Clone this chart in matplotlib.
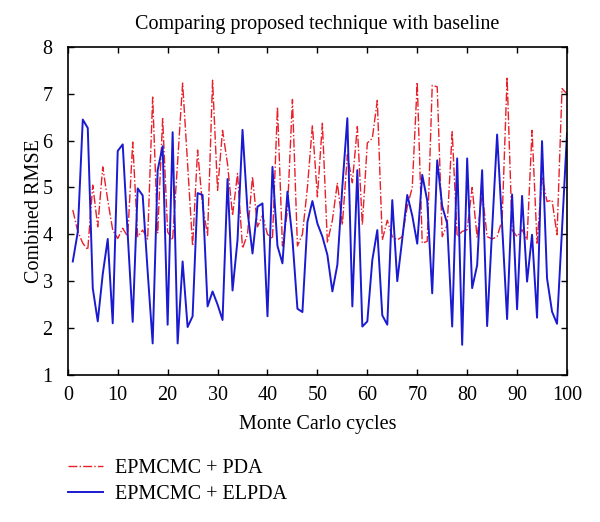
import numpy as np
import matplotlib
matplotlib.use("Agg")
from matplotlib import pyplot as plt

# Data (Monte Carlo cycles 1..100)
cycles = np.arange(1, 101)

pda = [4.52, 4.06, 3.81, 3.67, 5.05, 4.16, 5.44, 4.73, 4.09, 3.91,
       4.13, 3.95, 5.97, 3.95, 4.09, 3.90, 6.93, 4.02, 6.47, 4.05,
       3.88, 5.55, 7.23, 5.50, 3.75, 5.80, 4.60, 3.98, 7.29, 4.94,
       6.22, 5.50, 4.40, 5.30, 3.70, 4.00, 5.23, 4.16, 4.40, 4.00,
       3.90, 6.72, 3.75, 4.50, 6.88, 3.75, 4.00, 5.00, 6.33, 4.80,
       6.37, 3.82, 4.30, 5.10, 4.20, 5.70, 5.10, 6.30, 4.20, 5.95,
       6.05, 6.86, 3.88, 4.30, 3.95, 3.88, 3.95, 4.59, 5.00, 7.25,
       3.81, 3.85, 7.18, 7.15, 3.95, 4.20, 6.19, 3.95, 4.06, 4.10,
       5.00, 3.93, 4.90, 3.95, 3.90, 3.95, 4.30, 7.36, 4.09, 3.95,
       4.10, 3.88, 6.22, 3.81, 5.23, 4.70, 4.73, 3.99, 7.11, 7.00]

elpda = [3.42, 4.05, 6.45, 6.27, 2.85, 2.14, 3.15, 3.90, 2.10, 5.78,
         5.92, 4.00, 2.13, 4.98, 4.83, 3.20, 1.67, 5.37, 5.88, 2.07,
         6.18, 1.67, 3.42, 2.02, 2.25, 4.88, 4.84, 2.46, 2.78, 2.50,
         2.17, 5.18, 2.80, 3.88, 6.23, 4.50, 3.59, 4.59, 4.66, 2.25,
         5.44, 3.75, 3.38, 4.91, 3.90, 2.41, 2.34, 4.26, 4.71, 4.23,
         3.95, 3.56, 2.78, 3.35, 5.02, 6.48, 2.46, 5.37, 2.03, 2.14,
         3.45, 4.09, 2.27, 2.07, 4.73, 3.00, 3.90, 4.84, 4.40, 3.80,
         5.27, 4.72, 2.74, 5.58, 4.60, 4.23, 2.03, 5.62, 1.64, 5.62,
         2.85, 3.34, 5.37, 2.04, 4.10, 6.13, 4.20, 2.19, 4.85, 2.40,
         4.82, 2.99, 3.99, 2.22, 5.99, 3.06, 2.35, 2.09, 4.10, 6.15]

x_ticks = list(range(0, 101, 10))
y_ticks = list(range(1, 9))

plt.rcParams['font.family'] = ['Liberation Serif', 'DejaVu Serif']

fig = plt.figure(figsize=(6, 5.22), dpi=100)
ax = fig.add_axes([0.113, 0.282, 0.832, 0.628])

l1, = ax.plot(cycles, pda, color='#e8202a', linestyle='-.', linewidth=1.0,
              label='EPMCMC + PDA')
l2, = ax.plot(cycles, elpda, color='#1a1ad0', linestyle='-', linewidth=1.4,
              label='EPMCMC + ELPDA')

ax.set_xlim(0, 100)
ax.set_ylim(1, 8)
ax.set_xticks(x_ticks)
ax.set_yticks(y_ticks)
ax.tick_params(direction='in', top=True, right=True, labelsize=14.5,
               length=4, width=1)
ax.tick_params(axis='x', pad=8)
ax.tick_params(axis='y', pad=11)
for s in ax.spines.values():
    s.set_linewidth(1.2)

ax.set_title('Comparing proposed technique with baseline', fontsize=14.5, pad=13)
ax.set_xlabel('Monte Carlo cycles', fontsize=14.5, labelpad=7)
ax.set_ylabel('Combined RMSE', fontsize=14.5, labelpad=-1)

fig.legend(handles=[l1, l2], loc='upper left', bbox_to_anchor=(0.113, 0.12),
           frameon=False, fontsize=14.5, handlelength=1.75, handletextpad=0.57,
           labelspacing=0.3, borderpad=0, borderaxespad=0)

fig.savefig('out.png', dpi=100)
